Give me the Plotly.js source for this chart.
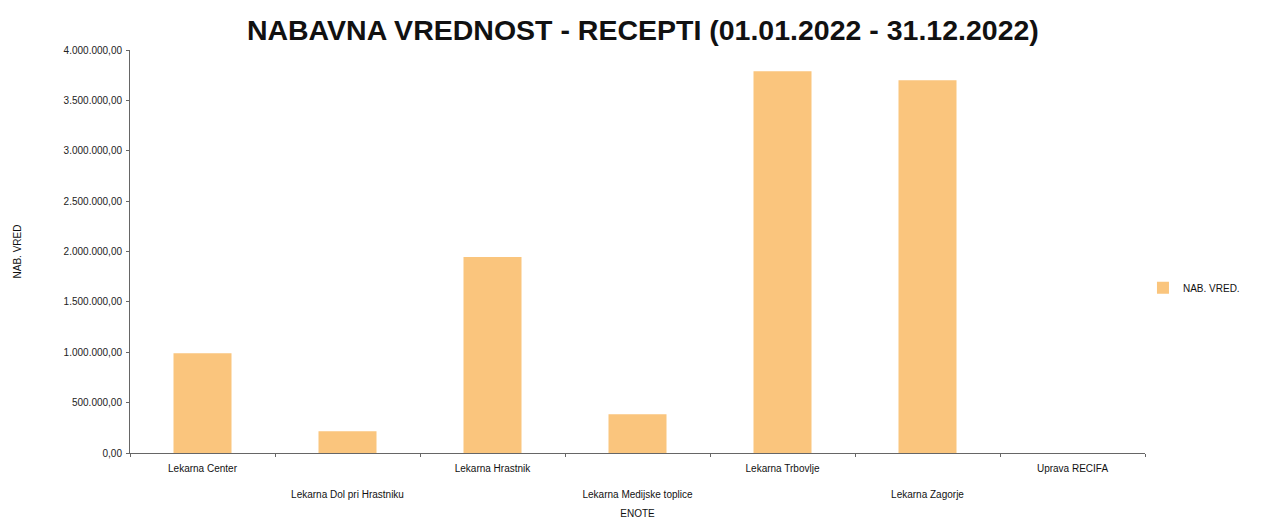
<!DOCTYPE html>
<html>
<head>
<meta charset="utf-8">
<script src="https://cdn.plot.ly/plotly-3.0.1.min.js"></script>
<style>html,body{margin:0;padding:0;background:#fff;}#chart{width:1263px;height:519px;}</style>
</head>
<body>
<div id="chart"></div>
<script>
const categories = ["Lekarna Center", "Lekarna Dol pri Hrastniku", "Lekarna Hrastnik", "Lekarna Medijske toplice", "Lekarna Trbovlje", "Lekarna Zagorje", "Uprava RECIFA"];
const tickLabels = ["Lekarna Center", "<br><br>Lekarna Dol pri Hrastniku", "Lekarna Hrastnik", "<br><br>Lekarna Medijske toplice", "Lekarna Trbovlje", "<br><br>Lekarna Zagorje", "Uprava RECIFA"];
const nabVred = [990000, 215000, 1945000, 385000, 3790000, 3700000, 0];
const yTicks = [0, 500000, 1000000, 1500000, 2000000, 2500000, 3000000, 3500000, 4000000];

const trace = {
  type: "bar",
  x: categories,
  y: nabVred,
  name: "NAB. VRED.",
  marker: {color: "#FAC57D"},
  showlegend: true,
  hoverinfo: "x+y"
};

const layout = {
  width: 1263, height: 519,
  separators: ",.",
  font: {family: "Liberation Sans, Arial, sans-serif", color: "#222", size: 10},
  title: {text: "<b>NABAVNA VREDNOST - RECEPTI (01.01.2022 - 31.12.2022)</b>", font: {size: 28.5, color: "#111"}, x: 0.509, xanchor: "center", y: 0.943, yanchor: "middle"},
  margin: {l: 130, r: 118, t: 50, b: 66, autoexpand: false},
  bargap: 0.6,
  paper_bgcolor: "#fff", plot_bgcolor: "#fff",
  xaxis: {
    type: "category",
    tickmode: "array", tickvals: categories, ticktext: tickLabels,
    tickson: "boundaries", ticks: "outside", ticklen: 3, tickcolor: "#666",
    ticklabelstandoff: 6,
    showline: true, linecolor: "#666", linewidth: 1,
    showgrid: false, zeroline: false,
    tickfont: {size: 10, color: "#111"},
    title: {text: "ENOTE", font: {size: 10, color: "#111"}, standoff: 11}
  },
  yaxis: {
    range: [0, 4000000],
    tickmode: "array", tickvals: yTicks, tickformat: ",.2f",
    ticks: "outside", ticklen: 3, tickcolor: "#666",
    ticklabelstandoff: 2,
    showline: true, linecolor: "#666", linewidth: 1,
    showgrid: false, zeroline: false,
    tickfont: {size: 10, color: "#222"},
    title: {text: "NAB. VRED", font: {size: 10, color: "#111"}, standoff: 40}
  },
  legend: {x: 0.998, xanchor: "left", y: 0.41, yanchor: "middle", font: {size: 10, color: "#111"}, bgcolor: "rgba(0,0,0,0)"}
};

Plotly.newPlot("chart", [trace], layout, {displayModeBar: false, staticPlot: true});
</script>
</body>
</html>
